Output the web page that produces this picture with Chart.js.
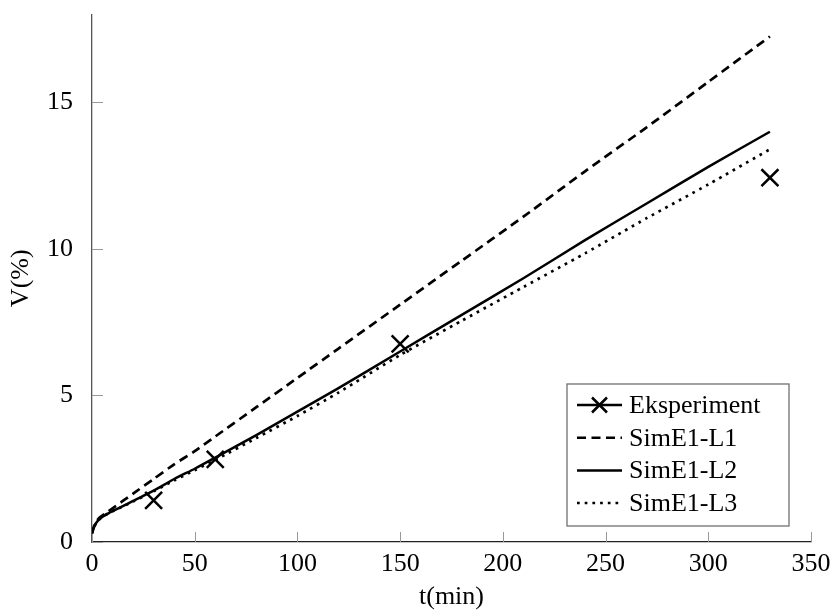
<!DOCTYPE html>
<html>
<head>
<meta charset="utf-8">
<script src="https://cdn.jsdelivr.net/npm/chart.js@4.4.0/dist/chart.umd.min.js"></script>
<style>
html, body { margin: 0; padding: 0; background: #fff; }
</style>
</head>
<body>
<canvas id="grafico" width="832" height="610"></canvas>
<script>
// tiempos de simulación (min) y curvas V(%)
const tSim = [0, 1, 2, 4, 6, 8, 10, 15, 20, 30, 40, 50, 60, 80, 100, 120, 150, 180, 210, 240, 270, 300, 330];
const simL1 = [0.3, 0.55, 0.7, 0.85, 0.95, 1.05, 1.15, 1.4, 1.65, 2.15, 2.65, 3.1, 3.6, 4.6, 5.6, 6.6, 8.1, 9.6, 11.1, 12.65, 14.15, 15.7, 17.25];
const simL2 = [0.3, 0.5, 0.65, 0.8, 0.9, 0.98, 1.05, 1.22, 1.4, 1.75, 2.15, 2.5, 2.88, 3.65, 4.45, 5.25, 6.5, 7.75, 9.0, 10.3, 11.55, 12.8, 14.0];
const simL3 = [0.3, 0.5, 0.65, 0.8, 0.9, 0.98, 1.05, 1.21, 1.38, 1.73, 2.1, 2.45, 2.8, 3.55, 4.3, 5.1, 6.38, 7.55, 8.7, 9.85, 11.05, 12.2, 13.4];

// puntos experimentales
const tExp = [30, 60, 150, 330];
const vExp = [1.42, 2.82, 6.76, 12.43];

const xTicks = [0, 50, 100, 150, 200, 250, 300, 350];
const yTicks = [0, 5, 10, 15];

const fuente = '"Liberation Serif", "Times New Roman", serif';

const pares = (xs, ys) => xs.map((x, i) => ({ x: x, y: ys[i] }));

// marcas de escala hacia dentro (estilo pgfplots)
const marcasInternas = {
    id: 'marcasInternas',
    beforeDatasetsDraw(chart) {
        const { ctx, scales } = chart;
        const area = chart.chartArea;
        ctx.save();
        ctx.strokeStyle = '#9a9a9a';
        ctx.lineWidth = 1;
        ctx.beginPath();
        xTicks.forEach(v => {
            const px = Math.round(scales.x.getPixelForValue(v)) + 0.5;
            ctx.moveTo(px, area.bottom);
            ctx.lineTo(px, area.bottom - 10);
        });
        yTicks.forEach(v => {
            const py = Math.round(scales.y.getPixelForValue(v)) + 0.5;
            ctx.moveTo(area.left, py);
            ctx.lineTo(area.left + 11, py);
        });
        ctx.stroke();
        ctx.restore();
    }
};

function cruz(ctx, x, y, r) {
    ctx.beginPath();
    ctx.moveTo(x - r, y - r); ctx.lineTo(x + r, y + r);
    ctx.moveTo(x - r, y + r); ctx.lineTo(x + r, y - r);
    ctx.stroke();
}

// leyenda dentro del área, abajo a la derecha
const leyenda = {
    id: 'leyenda',
    afterDraw(chart) {
        const { ctx } = chart;
        const area = chart.chartArea;
        const w = 222, h = 142;
        const x0 = area.right - 22 - w;
        const y0 = area.bottom - 16 - h;
        ctx.save();
        ctx.fillStyle = '#fff';
        ctx.fillRect(x0, y0, w, h);
        ctx.strokeStyle = '#707070';
        ctx.lineWidth = 1.3;
        ctx.strokeRect(x0, y0, w, h);
        ctx.font = '26px ' + fuente;
        ctx.textBaseline = 'middle';
        chart.data.datasets.forEach((ds, i) => {
            const y = y0 + 21 + i * 32.7;
            ctx.strokeStyle = '#000';
            ctx.lineWidth = 2.5;
            ctx.setLineDash(ds.borderDash || []);
            ctx.beginPath();
            ctx.moveTo(x0 + 10, y);
            ctx.lineTo(x0 + 55, y);
            ctx.stroke();
            ctx.setLineDash([]);
            if (ds.pointStyle === 'crossRot') cruz(ctx, x0 + 32.5, y, 7.5);
            ctx.fillStyle = '#000';
            ctx.fillText(ds.label, x0 + 62, y + 1);
        });
        ctx.restore();
    }
};

const ctx = document.getElementById('grafico').getContext('2d');
new Chart(ctx, {
    type: 'line',
    data: {
        datasets: [
            {
                label: 'Eksperiment',
                data: pares(tExp, vExp),
                showLine: false,
                pointStyle: 'crossRot',
                pointRadius: 12,
                pointBorderWidth: 2.5,
                borderColor: '#000',
                backgroundColor: '#000',
                borderWidth: 2.5
            },
            {
                label: 'SimE1-L1',
                data: pares(tSim, simL1),
                borderColor: '#000',
                borderWidth: 2.7,
                borderDash: [9, 5.5],
                pointRadius: 0,
                tension: 0.2
            },
            {
                label: 'SimE1-L2',
                data: pares(tSim, simL2),
                borderColor: '#000',
                borderWidth: 2.5,
                pointRadius: 0,
                tension: 0.2
            },
            {
                label: 'SimE1-L3',
                data: pares(tSim, simL3),
                borderColor: '#000',
                borderWidth: 2.7,
                borderDash: [2.7, 5],
                pointRadius: 0,
                tension: 0.2
            }
        ]
    },
    options: {
        responsive: false,
        animation: false,
        layout: { padding: { top: 13, right: 21, left: 0, bottom: 0 } },
        plugins: { legend: { display: false }, tooltip: { enabled: false } },
        scales: {
            x: {
                type: 'linear',
                min: 0,
                max: 350,
                afterBuildTicks: s => { s.ticks = xTicks.map(v => ({ value: v })); },
                afterFit: s => { s.height = 68; s.paddingLeft = 0; s.paddingRight = 0; },
                grid: { display: false },
                border: { display: true, color: '#222', width: 1.3 },
                ticks: { color: '#000', padding: -1, maxRotation: 0, font: { family: fuente, size: 26 } },
                title: { display: true, text: 't(min)', color: '#000', padding: { top: 0, bottom: -3 }, font: { family: fuente, size: 26 } }
            },
            y: {
                min: 0,
                max: 18,
                afterBuildTicks: s => { s.ticks = yTicks.map(v => ({ value: v })); },
                afterFit: s => { s.width = 92; s.paddingTop = 0; s.paddingBottom = 0; },
                grid: { display: false },
                border: { display: true, color: '#555', width: 1.3 },
                ticks: { color: '#000', padding: 11, font: { family: fuente, size: 26 } },
                title: { display: true, text: 'V(%)', color: '#000', padding: { top: 6, bottom: 0 }, font: { family: fuente, size: 26 } }
            }
        }
    },
    plugins: [marcasInternas, leyenda]
});
</script>
</body>
</html>
